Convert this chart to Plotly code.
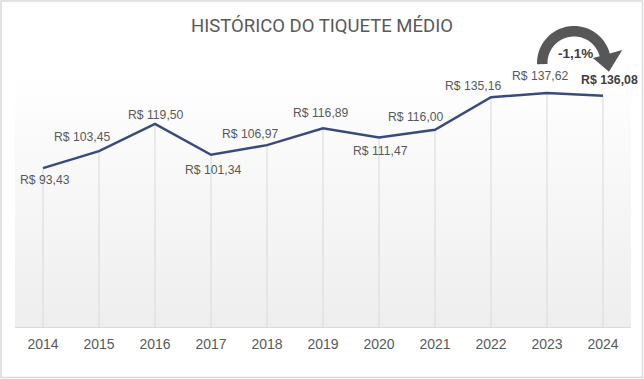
import numpy as np
import plotly.graph_objects as go

# ---- data ----
years = [2014, 2015, 2016, 2017, 2018, 2019, 2020, 2021, 2022, 2023, 2024]
values = [93.43, 103.45, 119.50, 101.34, 106.97, 116.89, 111.47, 116.00, 135.16, 137.62, 136.08]
title_text = "HISTÓRICO DO TIQUETE MÉDIO"

# label offsets in px (style)
label_dx = [2, -17, 1, 2, -17, -2, 1.5, -19, -18, -7, 6]
label_dy = [-12, 14.5, 9, -15, 11, 15, -13, 13, 11, 17, 16]

W, H = 644, 379
ML, MR, MT, MB = 15, 13, 55, 52
PW, PH = W - ML - MR, H - MT - MB
YMAX = 160


def brl(v):
    return "R$ " + f"{v:.2f}".replace(".", ",")


def px2paper(px, py):
    return (px - ML) / PW, (H - MB - py) / PH


fig = go.Figure()

# plot area gradient background
x0, x1 = years[0] - 0.5, years[-1] + 0.5
fig.add_trace(go.Scatter(
    x=[x0, x1, x1, x0, x0], y=[0, 0, YMAX, YMAX, 0],
    mode="lines", line=dict(width=0), fill="toself",
    fillgradient=dict(type="vertical", colorscale=[[0, "#eeeeee"], [1, "#ffffff"]],
                      start=0, stop=150),
    hoverinfo="skip", showlegend=False))

# drop lines
dx_, dy_ = [], []
for x, v in zip(years, values):
    dx_ += [x, x, None]
    dy_ += [0, v, None]
fig.add_trace(go.Scatter(x=dx_, y=dy_, mode="lines",
                         line=dict(color="#d9d9d9", width=1),
                         hoverinfo="skip", showlegend=False))

# main line
fig.add_trace(go.Scatter(x=years, y=values, mode="lines",
                         line=dict(color="#3a4a7c", width=2.5),
                         hoverinfo="skip", showlegend=False))

# data labels
for i, (x, v) in enumerate(zip(years, values)):
    last = i == len(years) - 1
    fig.add_annotation(
        x=x, y=v, text=("<b>%s</b>" % brl(v)) if last else brl(v),
        showarrow=False, xshift=label_dx[i], yshift=label_dy[i],
        xanchor="center", yanchor="middle",
        font=dict(family="Liberation Sans, Arial", size=12.3 if last else 12.2,
                  color="#404040" if last else "#595959"))

# curved arrow (pixel geometry -> paper)
cx, cy, R, r = 574, 63, 37, 26.5
a_start, a_end = np.radians(182), np.radians(15)
ang = np.linspace(a_start, a_end, 48)
outer = [(cx + R * np.cos(a), cy - R * np.sin(a)) for a in ang]
inner = [(cx + r * np.cos(a), cy - r * np.sin(a)) for a in ang[::-1]]
# arrowhead
hb1 = (cx + 19.5 * np.cos(a_end), cy - 19.5 * np.sin(a_end))
hb2 = (cx + 50 * np.cos(a_end), cy - 50 * np.sin(a_end))
ta = np.radians(-14)
tip = (cx + 36 * np.cos(ta), cy - 36 * np.sin(ta))
pts = outer + [hb2, tip, hb1] + inner
pp = [px2paper(*p) for p in pts]
path = "M " + " L ".join(f"{a:.5f},{b:.5f}" for a, b in pp) + " Z"
fig.add_shape(type="path", path=path, xref="paper", yref="paper",
              fillcolor="#575757", line=dict(width=0), layer="above")

change = (values[-1] / values[-2] - 1) * 100
tx, ty = px2paper(575.5, 53)
fig.add_annotation(x=tx, y=ty, xref="paper", yref="paper",
                   xanchor="center", yanchor="middle",
                   text="<b>%s%%</b>" % f"{change:.1f}".replace(".", ","),
                   showarrow=False,
                   font=dict(family="Liberation Sans, Arial", size=13.5, color="#404040"))

# chart border
bx0, by0 = px2paper(1, 377.5)
bx1, by1 = px2paper(642.5, 1)
fig.add_shape(type="rect", xref="paper", yref="paper", x0=bx0, y0=by0, x1=bx1, y1=by1,
              line=dict(color="#d9d9d9", width=1.5), layer="below")

fig.update_layout(
    width=W, height=H,
    margin=dict(l=ML, r=MR, t=MT, b=MB, pad=0),
    paper_bgcolor="white", plot_bgcolor="white",
    title=dict(text=title_text, x=0.5, xanchor="center",
               y=1 - 25.5 / H, yanchor="middle", yref="container",
               font=dict(family="Roboto", size=18.5, color="#595959")),
    xaxis=dict(range=[x0, x1], tickvals=years, ticktext=[str(y) for y in years],
               showgrid=False, zeroline=False, showline=True,
               linecolor="#d9d9d9", linewidth=1,
               ticks="outside", ticklen=4, tickcolor="rgba(0,0,0,0)",
               tickfont=dict(family="Liberation Sans, Arial", size=14, color="#595959"),
               fixedrange=True),
    yaxis=dict(range=[0, YMAX], visible=False, showgrid=False, fixedrange=True),
    showlegend=False,
    hovermode=False,
)

fig.write_html("out.html", config={"displayModeBar": False},
               post_script="document.body.style.margin='0';")
